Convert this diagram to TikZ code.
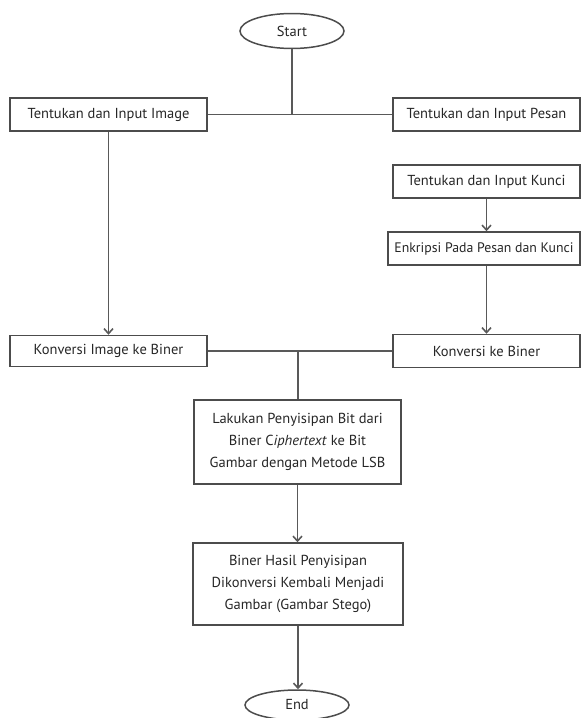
\documentclass[tikz,border=0pt]{standalone}
\usepackage{fontspec}
\setmainfont{PT Sans}
\usetikzlibrary{arrows.meta,shapes.geometric}
\begin{document}
\begin{tikzpicture}[x=1pt,y=-1pt,
  font=\fontsize{14.5}{22}\selectfont,
  box/.style={draw=black!70, line width=1.5pt, text=black!85, inner sep=0pt, align=center},
  term/.style={ellipse, draw=black!70, line width=1.5pt, text=black!85, inner sep=0pt},
  conn/.style={draw=black!65, line width=1.6pt},
  arr/.style={conn, -{Straight Barb[length=5pt,width=9pt]}}]
\useasboundingbox (0,0) rectangle (584,718);
\node[term, minimum width=104pt, minimum height=35pt] (start) at (292,31) {Start};
\node[box, minimum width=197pt, minimum height=33pt] (img) at (108.5,114.5) {Tentukan dan Input Image};
\node[box, minimum width=187pt, minimum height=33pt] (pesan) at (486.5,114.5) {Tentukan dan Input Pesan};
\node[box, minimum width=187pt, minimum height=33pt] (kunci) at (486.5,181.5) {Tentukan dan Input Kunci};
\node[box, minimum width=192pt, minimum height=33pt, font=\fontsize{13.8}{20}\selectfont] (enk) at (484,248.5) {Enkripsi Pada Pesan dan Kunci};
\node[box, minimum width=197pt, minimum height=31pt] (kimg) at (108.5,351) {Konversi Image ke Biner};
\node[box, minimum width=187pt, minimum height=33pt] (kbin) at (486.5,351) {Konversi ke Biner};
\node[box, minimum width=207pt, minimum height=84pt] (lak) at (297.5,442) {Lakukan Penyisipan Bit dari\\Biner C\textit{iphertext} ke Bit\\Gambar dengan Metode LSB};
\node[box, minimum width=210pt, minimum height=82pt] (bin) at (298,584) {Biner Hasil Penyisipan\\Dikonversi Kembali Menjadi\\Gambar (Gambar Stego)};
\node[term, minimum width=104pt, minimum height=30pt] (end) at (297,705) {End};
\coordinate (j1) at (start.south |- img.east);
\coordinate (j2) at (298,351);
\draw[conn] (start.south) -- (j1);
\draw[conn] (img.east) -- (pesan.west);
\draw[arr] (img.south) -- (kimg.north);
\draw[arr] (kunci.south) -- (kunci.south |- enk.north);
\draw[arr] (kunci.south |- enk.south) -- (kunci.south |- kbin.north);
\draw[conn] (kimg.east) -- (kbin.west);
\draw[conn] (j2) -- (j2 |- lak.north);
\draw[arr] (lak.south) -- (lak.south |- bin.north);
\draw[arr] (bin.south) -- (bin.south |- end.north);
\end{tikzpicture}
\end{document}
